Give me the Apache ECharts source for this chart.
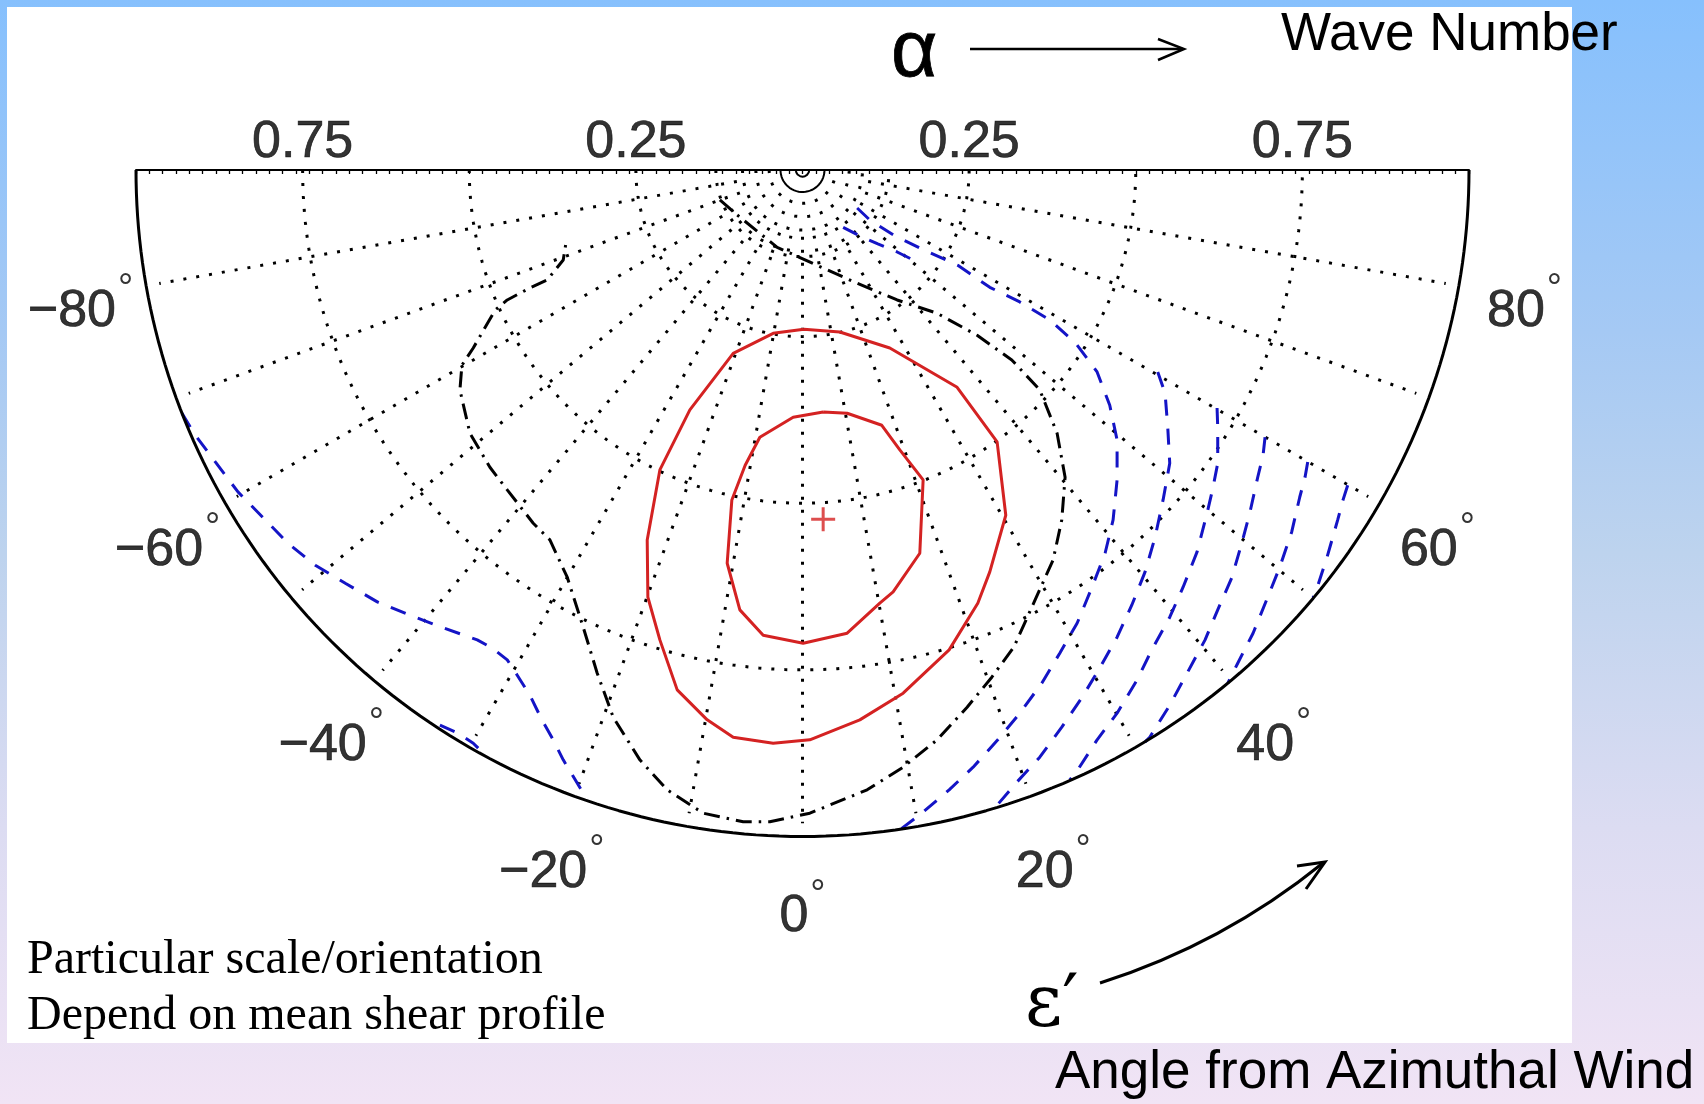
<!DOCTYPE html>
<html>
<head>
<meta charset="utf-8">
<script src="https://cdn.jsdelivr.net/npm/echarts@6/dist/echarts.min.js"></script>
<style>
  html, body { margin: 0; padding: 0; }
  #wrap {
    position: relative; width: 1704px; height: 1104px; overflow: hidden;
    background: linear-gradient(to bottom, #86c0fd 0%, #a5c9f4 30%, #bdd3ee 50%, #dcdcf2 75%, #f1e4f5 100%);
  }
  #paper { position: absolute; left: 7px; top: 7px; width: 1565px; height: 1036px; background: #fff; }
  #chart { position: absolute; left: 0; top: 0; width: 1704px; height: 1104px; }
</style>
</head>
<body>
<div id="wrap"><div id="paper"></div><div id="chart"></div></div>
<script>
// ---- axes ---------------------------------------------------------------
// wave number α along the top diameter (labels show |α|)
const alphaLabelTicks = [-0.75, -0.25, 0.25, 0.75];
const alphaMinorStep = 0.02;
// angle ε′ from the azimuthal wind (degrees, 0 = straight down)
const angleLabelTicks = [-80, -60, -40, -20, 0, 20, 40, 60, 80];
const spokeAngles = [-80, -70, -60, -50, -40, -30, -20, -10, 0, 10, 20, 30, 40, 50, 60, 70, 80];
const dottedCircles = [0.05, 0.07, 0.09, 0.13, 0.25, 0.5, 0.75];
const solidCircles = [0.01, 0.033];

// ---- contours, as wave-vector components [α·sin ε′, α·cos ε′] -------------
const redOuter = [
  [0.002, 0.239], [0.056, 0.243], [0.131, 0.267], [0.232, 0.326], [0.292, 0.408],
  [0.305, 0.518], [0.281, 0.603], [0.263, 0.650], [0.220, 0.720], [0.151, 0.785],
  [0.086, 0.825], [0.011, 0.855], [-0.044, 0.860], [-0.104, 0.851], [-0.143, 0.825],
  [-0.188, 0.780], [-0.214, 0.705], [-0.232, 0.641], [-0.233, 0.555], [-0.214, 0.450],
  [-0.169, 0.360], [-0.104, 0.275], [-0.044, 0.245], [0.002, 0.239]
];
const redInner = [
  [0.031, 0.363], [0.067, 0.365], [0.119, 0.383], [0.146, 0.420], [0.181, 0.465],
  [0.176, 0.575], [0.136, 0.633], [0.116, 0.650], [0.067, 0.695], [0.001, 0.710],
  [-0.059, 0.698], [-0.094, 0.660], [-0.113, 0.590], [-0.106, 0.495], [-0.086, 0.443],
  [-0.064, 0.401], [-0.014, 0.371], [0.031, 0.363]
];
const peak = [0.031, 0.524];

const blackDashDot = [
  [-0.124, 0.045], [-0.101, 0.065], [-0.038, 0.116], [0.022, 0.143], [0.082, 0.170],
  [0.142, 0.195], [0.202, 0.215], [0.262, 0.248], [0.314, 0.285], [0.356, 0.330],
  [0.382, 0.395], [0.394, 0.461], [0.389, 0.525], [0.376, 0.585], [0.349, 0.645],
  [0.317, 0.716], [0.284, 0.761], [0.247, 0.806], [0.202, 0.855], [0.151, 0.896],
  [0.097, 0.930], [0.011, 0.965], [-0.049, 0.978], [-0.089, 0.978], [-0.149, 0.965],
  [-0.203, 0.930], [-0.244, 0.885], [-0.284, 0.821], [-0.308, 0.755], [-0.329, 0.686],
  [-0.353, 0.611], [-0.379, 0.555], [-0.404, 0.530], [-0.443, 0.480], [-0.469, 0.446],
  [-0.499, 0.395], [-0.514, 0.330], [-0.511, 0.293], [-0.494, 0.267], [-0.461, 0.210],
  [-0.443, 0.195], [-0.409, 0.177], [-0.383, 0.165], [-0.359, 0.135], [-0.355, 0.110]
];

const blue0 = [[0.061, 0.086], [0.086, 0.099], [0.113, 0.111], [0.142, 0.123], [0.172, 0.138]];
const blue1 = [
  [0.082, 0.057], [0.101, 0.075], [0.139, 0.099], [0.176, 0.117], [0.233, 0.143],
  [0.281, 0.176], [0.326, 0.198], [0.371, 0.225], [0.410, 0.260], [0.442, 0.303],
  [0.461, 0.353], [0.472, 0.405], [0.472, 0.465], [0.466, 0.525], [0.454, 0.575],
  [0.434, 0.627], [0.412, 0.680], [0.386, 0.725], [0.359, 0.770], [0.326, 0.815],
  [0.293, 0.855], [0.256, 0.896], [0.220, 0.930], [0.179, 0.965], [0.146, 0.990]
];
const blue2 = [
  [0.533, 0.303], [0.544, 0.335], [0.548, 0.386], [0.551, 0.440], [0.541, 0.495],
  [0.529, 0.551], [0.514, 0.603], [0.494, 0.653], [0.472, 0.701], [0.446, 0.747],
  [0.419, 0.792], [0.389, 0.836], [0.356, 0.881], [0.322, 0.918], [0.286, 0.960]
];
const blue3 = [
  [0.622, 0.357], [0.623, 0.386], [0.623, 0.440], [0.616, 0.476], [0.607, 0.515],
  [0.592, 0.573], [0.571, 0.626], [0.551, 0.671], [0.524, 0.720], [0.502, 0.765],
  [0.472, 0.815], [0.442, 0.855], [0.413, 0.900], [0.401, 0.915]
];
const blue4 = [
  [0.694, 0.401], [0.691, 0.428], [0.683, 0.461], [0.671, 0.515], [0.659, 0.560],
  [0.644, 0.612], [0.623, 0.660], [0.604, 0.705], [0.577, 0.755], [0.551, 0.803],
  [0.521, 0.851], [0.514, 0.858]
];
const blue5 = [
  [0.758, 0.438], [0.754, 0.461], [0.746, 0.491], [0.734, 0.543], [0.716, 0.596],
  [0.698, 0.641], [0.676, 0.695], [0.653, 0.740], [0.638, 0.770]
];
const blue6 = [[0.818, 0.473], [0.811, 0.495], [0.803, 0.525], [0.787, 0.581], [0.772, 0.627], [0.766, 0.642]];
const blueLeft1 = [
  [-0.931, 0.365], [-0.911, 0.398], [-0.881, 0.438], [-0.847, 0.483], [-0.809, 0.522],
  [-0.772, 0.560], [-0.731, 0.593], [-0.686, 0.620], [-0.638, 0.648], [-0.589, 0.668],
  [-0.539, 0.687], [-0.488, 0.705], [-0.466, 0.717], [-0.443, 0.735], [-0.428, 0.758],
  [-0.409, 0.788], [-0.391, 0.825], [-0.374, 0.855], [-0.359, 0.885], [-0.341, 0.915],
  [-0.323, 0.945]
];
const blueLeft2 = [[-0.544, 0.833], [-0.517, 0.845], [-0.494, 0.860], [-0.473, 0.881]];

// ---- helpers -------------------------------------------------------------
const D2R = Math.PI / 180;
const polarPt = (r, deg) => [r * Math.sin(deg * D2R), r * Math.cos(deg * D2R)];
const halfCircle = r => { const p = []; for (let a = -90; a <= 90; a += 1) p.push(polarPt(r, a)); return p; };
const minorTicks = [];
for (let k = 0; k <= Math.round(2 / alphaMinorStep); k++) minorTicks.push(+(-1 + k * alphaMinorStep).toFixed(4));

const RED = '#d42222', BLUE = '#1414c6', INK = '#000';
const SANS = '"Liberation Sans", Arial, sans-serif';
const dotStyle = { color: '#000', width: 3, type: [3, 10], cap: 'butt' };
const blueStyle = { color: BLUE, width: 3, type: [16, 13], cap: 'butt' };

const line = (name, data, lineStyle, z) => ({
  type: 'line', name, data, symbol: 'none', showSymbol: false, clip: false,
  silent: true, animation: false, smooth: false, lineStyle, z
});

const series = [];
dottedCircles.forEach(r => series.push(line('circle ' + r, halfCircle(r), dotStyle, 1)));
spokeAngles.forEach(a => series.push(line('spoke ' + a, [polarPt(0.1, a), polarPt(0.98, a)], dotStyle, 1)));
solidCircles.forEach(r => series.push(line('core ' + r, halfCircle(r), { color: INK, width: 2 }, 2)));
series.push(line('rim', halfCircle(1), { color: INK, width: 3 }, 6));

series.push(line('growth outer', redOuter, { color: RED, width: 3 }, 4));
series.push(line('growth inner', redInner, { color: RED, width: 3 }, 4));
series.push(line('neutral', blackDashDot, { color: INK, width: 3, type: [16, 7, 2.5, 7], cap: 'butt' }, 4));
[blue0, blue1, blue2, blue3, blue4, blue5, blue6, blueLeft1, blueLeft2].forEach((c, i) =>
  series.push(line('decay ' + i, c, blueStyle, 4)));

series.push({
  type: 'scatter', name: 'maximum', data: [peak], clip: false, silent: true,
  symbol: 'path://M10.5,0H13.5V24H10.5ZM0,10.5H24V13.5H0Z', symbolSize: 24,
  itemStyle: { color: RED }, z: 5
});

// wave-number labels along the top diameter
series.push({
  type: 'scatter', name: 'alpha labels', clip: false, silent: true, symbolSize: 1,
  itemStyle: { color: 'rgba(0,0,0,0)' },
  data: alphaLabelTicks.map(v => [v, 0]),
  label: {
    show: true, position: 'top', distance: 1,
    formatter: p => Math.abs(p.value[0]).toFixed(2),
    fontSize: 52, fontFamily: SANS, color: INK, lineHeight: 52,
    textBorderColor: INK, textBorderWidth: 0.7
  },
  z: 5
});

// angle labels round the rim
const LABEL_R = 1.10;
series.push({
  type: 'scatter', name: 'angle labels', clip: false, silent: true, symbolSize: 1,
  itemStyle: { color: 'rgba(0,0,0,0)' },
  data: angleLabelTicks.map(a => polarPt(LABEL_R, a).concat([a])),
  label: {
    show: true, position: 'inside', offset: [0, 14],
    formatter: p => '{n|' + (p.value[2] < 0 ? '\u2212' + Math.abs(p.value[2]) : p.value[2]) + '}{d|°}',
    rich: {
      n: { fontSize: 52, fontFamily: SANS, color: INK, lineHeight: 82, textBorderColor: INK, textBorderWidth: 0.7 },
      d: { fontSize: 38, fontFamily: SANS, color: INK, lineHeight: 38, verticalAlign: 'top', padding: [0, 0, 0, 2] }
    }
  },
  z: 5
});

const option = {
  animation: false,
  grid: { left: 136, top: 170, width: 1333, height: 666.5, containLabel: false },
  xAxis: {
    type: 'value', min: -1, max: 1, position: 'top',
    axisLine: { show: true, onZero: false, lineStyle: { color: INK, width: 2 } },
    axisTick: { show: true, inside: true, length: 4, customValues: minorTicks, lineStyle: { color: INK, width: 1.3 } },
    splitLine: { show: false },
    axisLabel: { show: false }
  },
  yAxis: { type: 'value', min: 0, max: 1, inverse: true, show: false },
  series,
  graphic: [
    { type: 'text', style: { text: '\u03b1', x: 914, y: 54, font: '80px ' + SANS,
      fill: INK, align: 'center', verticalAlign: 'middle', stroke: INK, lineWidth: 0.8 } },
    { type: 'line', shape: { x1: 970, y1: 49, x2: 1183, y2: 49 }, style: { stroke: INK, lineWidth: 2.5 } },
    { type: 'polyline', shape: { points: [[1158, 39], [1184, 49], [1158, 60]] },
      style: { stroke: INK, lineWidth: 2.5, fill: null } },
    { type: 'text', style: { text: 'Wave Number', x: 1281, y: 35.5, font: '53px ' + SANS,
      fill: INK, align: 'left', verticalAlign: 'middle' } },
    { type: 'text', style: { text: '\u03b5\u2032', x: 1025, y: 1007, font: '72px "DejaVu Serif", "Liberation Serif", serif',
      fill: INK, align: 'left', verticalAlign: 'middle' } },
    { type: 'bezierCurve', shape: { x1: 1100, y1: 983, x2: 1323, y2: 863, cpx1: 1223, cpy1: 944 },
      style: { stroke: INK, lineWidth: 3, fill: null } },
    { type: 'polyline', shape: { points: [[1297, 866], [1325, 862], [1306, 889]] },
      style: { stroke: INK, lineWidth: 3, fill: null } },
    { type: 'text', style: { text: 'Particular scale/orientation', x: 27, y: 960,
      font: '48px "Liberation Serif", "Times New Roman", serif', fill: INK, align: 'left', verticalAlign: 'middle' } },
    { type: 'text', style: { text: 'Depend on mean shear profile', x: 27, y: 1016,
      font: '48px "Liberation Serif", "Times New Roman", serif', fill: INK, align: 'left', verticalAlign: 'middle' } },
    { type: 'text', style: { text: 'Angle from Azimuthal Wind', x: 1055, y: 1073.5,
      font: '53px ' + SANS, fill: INK, align: 'left', verticalAlign: 'middle' } }
  ]
};

const chart = echarts.init(document.getElementById('chart'), null, { renderer: 'canvas' });
chart.setOption(option);
</script>
</body>
</html>
